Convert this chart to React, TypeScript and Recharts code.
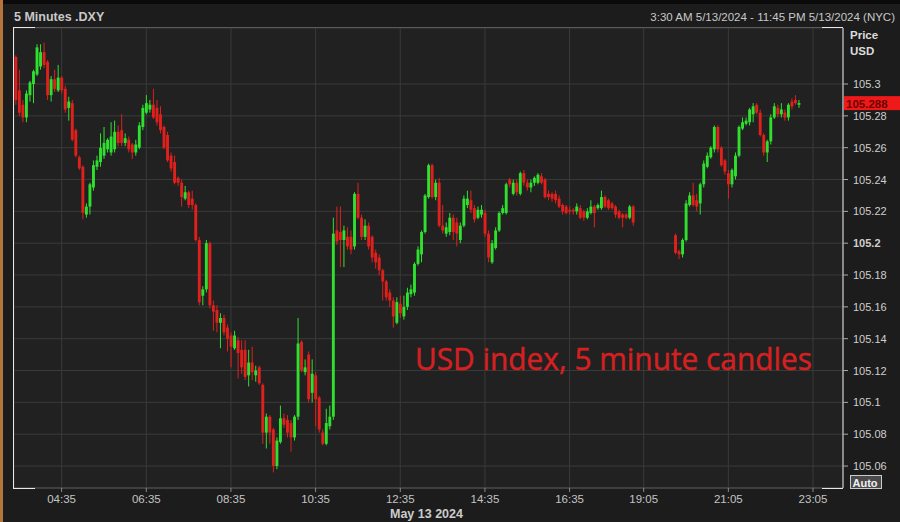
import React from "react";
import { ComposedChart, Bar, XAxis, YAxis, CartesianGrid, ReferenceLine } from "recharts";

// 5-minute DXY candles, 13 May 2024. Session A runs from 03:30, session B resumes after the evening gap.
const openA = [
  105.317, 105.296, 105.287, 105.279, 105.293, 105.300, 105.306, 105.311, 105.320, 105.314,
  105.293, 105.303, 105.296, 105.304, 105.297, 105.285, 105.288, 105.271, 105.254, 105.248,
  105.218, 105.223, 105.235, 105.248, 105.251, 105.255, 105.259, 105.257, 105.259, 105.270,
  105.271, 105.263, 105.265, 105.262, 105.257, 105.260, 105.273, 105.282, 105.284, 105.287,
  105.285, 105.281, 105.273, 105.268, 105.255, 105.251, 105.241, 105.238, 105.228, 105.232,
  105.228, 105.224, 105.202, 105.167, 105.171, 105.200, 105.161, 105.158, 105.150, 105.153,
  105.147, 105.142, 105.134, 105.139, 105.133, 105.133, 105.117, 105.125, 105.117, 105.122,
  105.111, 105.081, 105.091, 105.083, 105.060, 105.075, 105.090, 105.089, 105.087, 105.078,
  105.091, 105.138, 105.119, 105.130, 105.106, 105.117, 105.103, 105.081, 105.074, 105.085,
  105.091, 105.208, 105.207, 105.202, 105.204, 105.204, 105.198, 105.231, 105.216, 105.204,
  105.211, 105.204, 105.194, 105.191, 105.183, 105.176, 105.169, 105.164, 105.150, 105.162,
  105.154, 105.160, 105.168, 105.169, 105.187, 105.193, 105.207, 105.229, 105.249, 105.229,
  105.238, 105.211, 105.206, 105.207, 105.216, 105.213, 105.202, 105.211, 105.224, 105.227,
  105.222, 105.216, 105.218, 105.219, 105.206, 105.188, 105.197, 105.208, 105.219, 105.219,
  105.240, 105.231, 105.238, 105.231, 105.244, 105.238, 105.235, 105.238, 105.238, 105.242,
  105.240, 105.231, 105.231, 105.231, 105.228, 105.224, 105.223, 105.221, 105.221, 105.220,
  105.222, 105.220, 105.216, 105.219, 105.223, 105.222, 105.222, 105.229, 105.227, 105.225,
  105.223, 105.220, 105.218, 105.218, 105.216, 105.223,
];
const highA = [
  105.318, 105.309, 105.290, 105.296, 105.302, 105.309, 105.325, 105.325, 105.326, 105.315,
  105.305, 105.309, 105.312, 105.305, 105.299, 105.292, 105.290, 105.272, 105.255, 105.249,
  105.225, 105.238, 105.252, 105.255, 105.269, 105.273, 105.266, 105.276, 105.277, 105.274,
  105.281, 105.269, 105.267, 105.263, 105.265, 105.276, 105.287, 105.293, 105.290, 105.297,
  105.290, 105.286, 105.274, 105.270, 105.257, 105.255, 105.242, 105.240, 105.236, 105.233,
  105.233, 105.225, 105.204, 105.173, 105.202, 105.201, 105.164, 105.161, 105.156, 105.155,
  105.149, 105.144, 105.145, 105.141, 105.139, 105.139, 105.133, 105.135, 105.123, 105.123,
  105.112, 105.093, 105.092, 105.084, 105.078, 105.098, 105.093, 105.092, 105.089, 105.092,
  105.153, 105.139, 105.127, 105.132, 105.127, 105.119, 105.104, 105.083, 105.096, 105.098,
  105.216, 105.223, 105.223, 105.211, 105.210, 105.208, 105.232, 105.238, 105.218, 105.215,
  105.213, 105.205, 105.196, 105.193, 105.184, 105.177, 105.171, 105.166, 105.166, 105.167,
  105.167, 105.172, 105.174, 105.188, 105.198, 105.208, 105.231, 105.250, 105.250, 105.240,
  105.241, 105.224, 105.213, 105.219, 105.218, 105.216, 105.213, 105.230, 105.233, 105.233,
  105.224, 105.223, 105.224, 105.221, 105.208, 105.202, 105.210, 105.220, 105.224, 105.238,
  105.241, 105.240, 105.240, 105.245, 105.246, 105.240, 105.240, 105.242, 105.244, 105.244,
  105.241, 105.233, 105.232, 105.233, 105.230, 105.225, 105.224, 105.223, 105.222, 105.225,
  105.224, 105.221, 105.222, 105.227, 105.224, 105.225, 105.233, 105.230, 105.228, 105.226,
  105.224, 105.221, 105.219, 105.219, 105.224, 105.224,
];
const lowA = [
  105.287, 105.280, 105.276, 105.276, 105.289, 105.288, 105.305, 105.309, 105.310, 105.290,
  105.289, 105.295, 105.295, 105.294, 105.282, 105.277, 105.264, 105.254, 105.246, 105.215,
  105.216, 105.218, 105.233, 105.246, 105.248, 105.253, 105.257, 105.255, 105.257, 105.261,
  105.261, 105.261, 105.257, 105.253, 105.255, 105.259, 105.271, 105.281, 105.282, 105.278,
  105.274, 105.269, 105.259, 105.251, 105.245, 105.237, 105.236, 105.223, 105.227, 105.222,
  105.221, 105.201, 105.161, 105.161, 105.169, 105.159, 105.145, 105.144, 105.134, 105.142,
  105.132, 105.122, 105.133, 105.115, 105.118, 105.114, 105.110, 105.114, 105.113, 105.111,
  105.074, 105.071, 105.074, 105.056, 105.058, 105.074, 105.084, 105.078, 105.069, 105.076,
  105.089, 105.119, 105.117, 105.100, 105.100, 105.085, 105.081, 105.073, 105.073, 105.083,
  105.089, 105.199, 105.185, 105.185, 105.196, 105.193, 105.196, 105.215, 105.202, 105.202,
  105.196, 105.188, 105.184, 105.180, 105.164, 105.164, 105.160, 105.147, 105.149, 105.153,
  105.152, 105.158, 105.166, 105.167, 105.186, 105.188, 105.206, 105.228, 105.228, 105.227,
  105.210, 105.206, 105.204, 105.205, 105.202, 105.198, 105.200, 105.210, 105.222, 105.219,
  105.213, 105.215, 105.216, 105.204, 105.188, 105.187, 105.196, 105.207, 105.218, 105.218,
  105.235, 105.230, 105.230, 105.230, 105.236, 105.233, 105.232, 105.236, 105.237, 105.237,
  105.228, 105.227, 105.226, 105.225, 105.222, 105.218, 105.218, 105.218, 105.218, 105.218,
  105.215, 105.214, 105.215, 105.218, 105.210, 105.221, 105.221, 105.222, 105.221, 105.221,
  105.216, 105.215, 105.210, 105.215, 105.215, 105.211,
];
const closeA = [
  105.290, 105.282, 105.279, 105.294, 105.301, 105.308, 105.323, 105.320, 105.312, 105.293,
  105.303, 105.297, 105.304, 105.296, 105.284, 105.289, 105.265, 105.255, 105.247, 105.219,
  105.223, 105.237, 105.249, 105.252, 105.260, 105.263, 105.265, 105.267, 105.270, 105.263,
  105.263, 105.266, 105.259, 105.257, 105.262, 105.274, 105.285, 105.288, 105.287, 105.279,
  105.276, 105.271, 105.260, 105.252, 105.247, 105.238, 105.238, 105.229, 105.232, 105.224,
  105.224, 105.202, 105.163, 105.171, 105.200, 105.161, 105.157, 105.150, 105.153, 105.144,
  105.140, 105.135, 105.142, 105.131, 105.122, 105.116, 105.125, 105.119, 105.120, 105.112,
  105.081, 105.091, 105.081, 105.060, 105.076, 105.090, 105.086, 105.081, 105.078, 105.091,
  105.137, 105.120, 105.122, 105.102, 105.118, 105.102, 105.083, 105.074, 105.087, 105.091,
  105.206, 105.201, 105.202, 105.208, 105.198, 105.196, 105.231, 105.216, 105.204, 105.211,
  105.198, 105.191, 105.188, 105.183, 105.176, 105.166, 105.164, 105.154, 105.163, 105.156,
  105.160, 105.169, 105.171, 105.187, 105.196, 105.207, 105.230, 105.249, 105.229, 105.238,
  105.211, 105.208, 105.210, 105.216, 105.207, 105.206, 105.211, 105.228, 105.228, 105.221,
  105.215, 105.221, 105.221, 105.206, 105.191, 105.200, 105.208, 105.219, 105.222, 105.237,
  105.237, 105.238, 105.232, 105.244, 105.238, 105.235, 105.238, 105.241, 105.243, 105.238,
  105.229, 105.229, 105.228, 105.227, 105.223, 105.220, 105.219, 105.220, 105.220, 105.223,
  105.216, 105.216, 105.220, 105.223, 105.219, 105.224, 105.229, 105.223, 105.222, 105.222,
  105.218, 105.216, 105.216, 105.216, 105.223, 105.213,
];

const openB = [
  105.205, 105.195, 105.193, 105.202, 105.224, 105.230, 105.227, 105.225, 105.237, 105.248,
  105.254, 105.259, 105.273, 105.260, 105.252, 105.244, 105.237, 105.242, 105.255, 105.272,
  105.275, 105.276, 105.281, 105.287, 105.282, 105.268, 105.257, 105.264, 105.279, 105.285,
  105.281, 105.282, 105.279, 105.289, 105.290, 105.287,
];
const highB = [
  105.206, 105.196, 105.203, 105.227, 105.232, 105.238, 105.231, 105.238, 105.252, 105.257,
  105.261, 105.274, 105.274, 105.261, 105.253, 105.246, 105.247, 105.257, 105.274, 105.279,
  105.279, 105.285, 105.288, 105.288, 105.284, 105.269, 105.265, 105.281, 105.288, 105.287,
  105.288, 105.284, 105.288, 105.291, 105.293, 105.290,
];
const lowB = [
  105.193, 105.190, 105.191, 105.201, 105.223, 105.223, 105.220, 105.218, 105.235, 105.247,
  105.253, 105.257, 105.257, 105.248, 105.243, 105.228, 105.235, 105.240, 105.254, 105.271,
  105.274, 105.274, 105.276, 105.281, 105.267, 105.255, 105.251, 105.262, 105.278, 105.279,
  105.279, 105.277, 105.277, 105.284, 105.287, 105.285,
];
const closeB = [
  105.194, 105.193, 105.202, 105.225, 105.230, 105.224, 105.223, 105.237, 105.250, 105.255,
  105.260, 105.273, 105.259, 105.249, 105.245, 105.237, 105.246, 105.255, 105.273, 105.276,
  105.277, 105.284, 105.286, 105.282, 105.268, 105.257, 105.264, 105.279, 105.286, 105.281,
  105.284, 105.279, 105.287, 105.286, 105.288, 105.288,
];

// slot layout: empty 5-min slots between the two runs and after the last candle
const emptyBetween = 11;
const emptyAfter = 12;
const sessionStartMin = 3 * 60 + 30;
const breakAfterSlot = 164; // 17:10, then the axis skips 45 minutes
const breakMinutes = 45;

const timeTicks = ["04:35", "06:35", "08:35", "10:35", "12:35", "14:35", "16:35", "19:05", "21:05", "23:05"];
const priceTicks = [105.06, 105.08, 105.1, 105.12, 105.14, 105.16, 105.18, 105.2, 105.22, 105.24, 105.26, 105.28, 105.3];
const priceDomain = [105.0462, 105.3352];
const lastPrice = 105.288;

const GREEN = "#2fe02f";
const RED = "#e0201c";
const FONT = "'Liberation Sans', Arial, sans-serif";

function slotLabel(i: number) {
  const m = sessionStartMin + i * 5 + (i > breakAfterSlot ? breakMinutes : 0);
  const hh = String(Math.floor(m / 60)).padStart(2, "0");
  const mm = String(m % 60).padStart(2, "0");
  return `${hh}:${mm}`;
}

type Row = { t: string; o: number | null; h: number | null; l: number | null; c: number | null; range: [number, number] | null };

function buildRows(): Row[] {
  const rows: Row[] = [];
  const push = (o: number | null, h: number | null, l: number | null, c: number | null) => {
    rows.push({ t: slotLabel(rows.length), o, h, l, c, range: l != null && h != null ? [l, h] : null });
  };
  openA.forEach((o, i) => push(o, highA[i], lowA[i], closeA[i]));
  for (let k = 0; k < emptyBetween; k++) push(null, null, null, null);
  openB.forEach((o, i) => push(o, highB[i], lowB[i], closeB[i]));
  for (let k = 0; k < emptyAfter; k++) push(null, null, null, null);
  return rows;
}

const rows = buildRows();

function Candle(props: any) {
  const { x, y, width, height, payload } = props;
  if (!payload || payload.o == null || height == null || isNaN(y)) return <g />;
  const top = height < 0 ? y + height : y;
  const span = Math.abs(height);
  const { o, h, l, c } = payload;
  const k = h > l ? span / (h - l) : 0;
  const color = c >= o ? GREEN : RED;
  const cx = x + width / 2;
  const bodyTop = top + (h - Math.max(o, c)) * k;
  const bodyH = Math.max(Math.abs(o - c) * k, 1.2);
  const bw = 2.9;
  return (
    <g>
      <line x1={cx} x2={cx} y1={top} y2={top + span} stroke={color} strokeWidth={1} />
      <rect x={cx - bw / 2} y={bodyTop} width={bw} height={bodyH} fill={color} />
    </g>
  );
}

function PriceTick(props: any) {
  const { x, y, payload } = props;
  const bold = payload.value === 105.2;
  return (
    <text x={x + 1} y={y} dy={4} fill="#cfcfcf" fontSize={11} fontFamily={FONT} fontWeight={bold ? "bold" : "normal"} textAnchor="start">
      {String(payload.value)}
    </text>
  );
}

function PriceBadge(props: any) {
  const vb = props.viewBox;
  if (!vb) return null;
  const x = vb.x + vb.width;
  return (
    <g>
      <rect x={x + 1} y={vb.y - 7} width={57} height={14} fill="#ee1a1a" />
      <text x={x + 3} y={vb.y + 4.5} fill="#6e0000" fontSize={11.5} fontWeight="bold" fontFamily={FONT}>
        {lastPrice.toFixed(3)}
      </text>
    </g>
  );
}

export default function App() {
  return (
    <div style={{ position: "absolute", left: 0, top: 0, width: 900, height: 522, background: "#1c1c1c", overflow: "hidden" }}>
      <ComposedChart width={900} height={522} data={rows} margin={{ top: 28, right: 0, bottom: 0, left: 14 }} barCategoryGap="10%">
        <CartesianGrid stroke="#3a3a3a" fill="#212121" />
        <XAxis
          dataKey="t"
          ticks={timeTicks}
          interval={0}
          tickSize={4}
          tickMargin={3}
          height={34}
          stroke="#555"
          tickLine={{ stroke: "#8a8a8a" }}
          tick={{ fill: "#c4c4c4", fontSize: 11.5, fontFamily: FONT }}
        />
        <YAxis
          orientation="right"
          type="number"
          domain={priceDomain}
          ticks={priceTicks}
          allowDataOverflow
          width={57}
          tickSize={5}
          tickMargin={4}
          stroke="#e8e8e8"
          tickLine={{ stroke: "#aaaaaa" }}
          tick={<PriceTick />}
        />
        <Bar dataKey="range" isAnimationActive={false} shape={(p: any) => <Candle {...p} />} />
        <ReferenceLine y={lastPrice} stroke="none" ifOverflow="extendDomain" label={(p: any) => <PriceBadge viewBox={p.viewBox} />} />
      </ComposedChart>
      <svg width={900} height={522} style={{ position: "absolute", left: 0, top: 0, pointerEvents: "none" }}>
        <rect x={0} y={0} width={900} height={4} fill="#0a0a0a" />
        <rect x={0} y={0} width={3} height={522} fill="#b5743a" />
        <text x={14} y={21} fill="#c8c8c8" fontSize={12.5} fontWeight="bold" fontFamily={FONT}>5 Minutes .DXY</text>
        <text x={895} y={21} fill="#c8c8c8" fontSize={11.5} fontFamily={FONT} textAnchor="end">
          3:30 AM 5/13/2024 - 11:45 PM 5/13/2024 (NYC)
        </text>
        <line x1={14} x2={843} y1={27.5} y2={27.5} stroke="#5a5a5a" />
        <line x1={13.5} x2={13.5} y1={27} y2={489} stroke="#e8e8e8" />
        <line x1={13.5} x2={35} y1={27.5} y2={27.5} stroke="#e8e8e8" />
        <line x1={822} x2={843} y1={27.5} y2={27.5} stroke="#e8e8e8" />
        <line x1={13.5} x2={35} y1={488.5} y2={488.5} stroke="#e8e8e8" />
        <line x1={822} x2={843} y1={488.5} y2={488.5} stroke="#e8e8e8" />
        <text x={850} y={39} fill="#dcdcdc" fontSize={11.5} fontWeight="bold" fontFamily={FONT}>Price</text>
        <text x={850} y={55} fill="#dcdcdc" fontSize={11.5} fontWeight="bold" fontFamily={FONT}>USD</text>
        <rect x={850.5} y={475.5} width={31} height={13} fill="#4a4a4a" stroke="#cccccc" />
        <text x={852.5} y={486.5} fill="#f0f0f0" fontSize={11} fontWeight="bold" fontFamily={FONT}>Auto</text>
        <text x={390} y={518} fill="#cccccc" fontSize={12.5} fontWeight="bold" fontFamily={FONT}>May 13 2024</text>
        <text x={415} y={370} fill="#d42020" stroke="#d42020" strokeWidth={0.5} fontSize={31} fontFamily="'Open Sans', sans-serif" textLength={397} lengthAdjust="spacingAndGlyphs">
          USD index, 5 minute candles
        </text>
      </svg>
    </div>
  );
}
